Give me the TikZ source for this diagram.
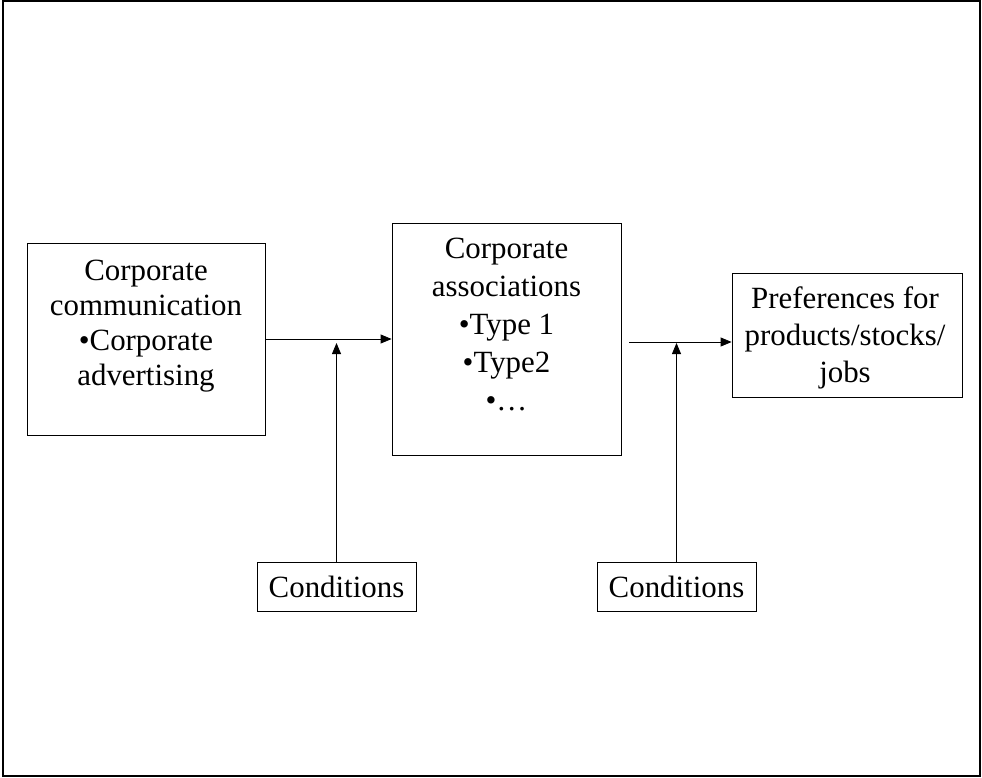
\documentclass[tikz,border=0pt]{standalone}
\usepackage{fontspec}
\setmainfont{Liberation Serif}
\usetikzlibrary{arrows.meta}
\begin{document}
\begin{tikzpicture}[x=1bp,y=-1bp,
  box/.style={draw=black,line width=0.8bp,rectangle,inner sep=0pt},
  txt/.style={align=center,inner sep=0pt,anchor=base},
  flow/.style={draw=black,line width=0.8bp,-{Triangle[length=11bp,width=9bp]}}]
  \useasboundingbox (0,0) rectangle (982,778);
  % outer frame
  \draw[line width=2bp] (3,1) rectangle (980,776);

  % boxes
  \node[box,minimum width=238bp,minimum height=192bp] (comm) at (146,339) {};
  \node[box,minimum width=229bp,minimum height=232bp] (assoc) at (506.5,339) {};
  \node[box,minimum width=230bp,minimum height=124bp] (pref) at (847,335) {};
  \node[box,minimum width=159bp,minimum height=49bp,
        font={\fontsize{31}{35}\selectfont}] (cond1) at (336.5,586.5) {Conditions};
  \node[box,minimum width=159bp,minimum height=49bp,
        font={\fontsize{31}{35}\selectfont}] (cond2) at (676.5,586.5) {Conditions};

  % box texts (base anchor sits on the last line)
  \node[txt,font={\fontsize{31}{35}\selectfont}] (commtxt) at (146,385)
    {Corporate\\communication\\•Corporate\\advertising};
  \node[txt,font={\fontsize{31}{38}\selectfont}] (assoctxt) at (506.5,410)
    {Corporate\\associations\\•Type 1\\•Type2\\•…};
  \node[txt,font={\fontsize{31}{37}\selectfont}] (preftxt) at (845,382)
    {Preferences for\\products/stocks/\\jobs};

  % connectors
  \coordinate (m1) at (336.5,343);
  \coordinate (s2) at (629,342);
  \coordinate (m2) at (676.5,343);
  \draw[flow] (comm.east) -- (comm.east -| assoc.west);
  \draw[flow] (cond1.north) -- (m1);
  \draw[flow] (s2) -- (s2 -| pref.west);
  \draw[flow] (cond2.north) -- (m2);
\end{tikzpicture}
\end{document}
